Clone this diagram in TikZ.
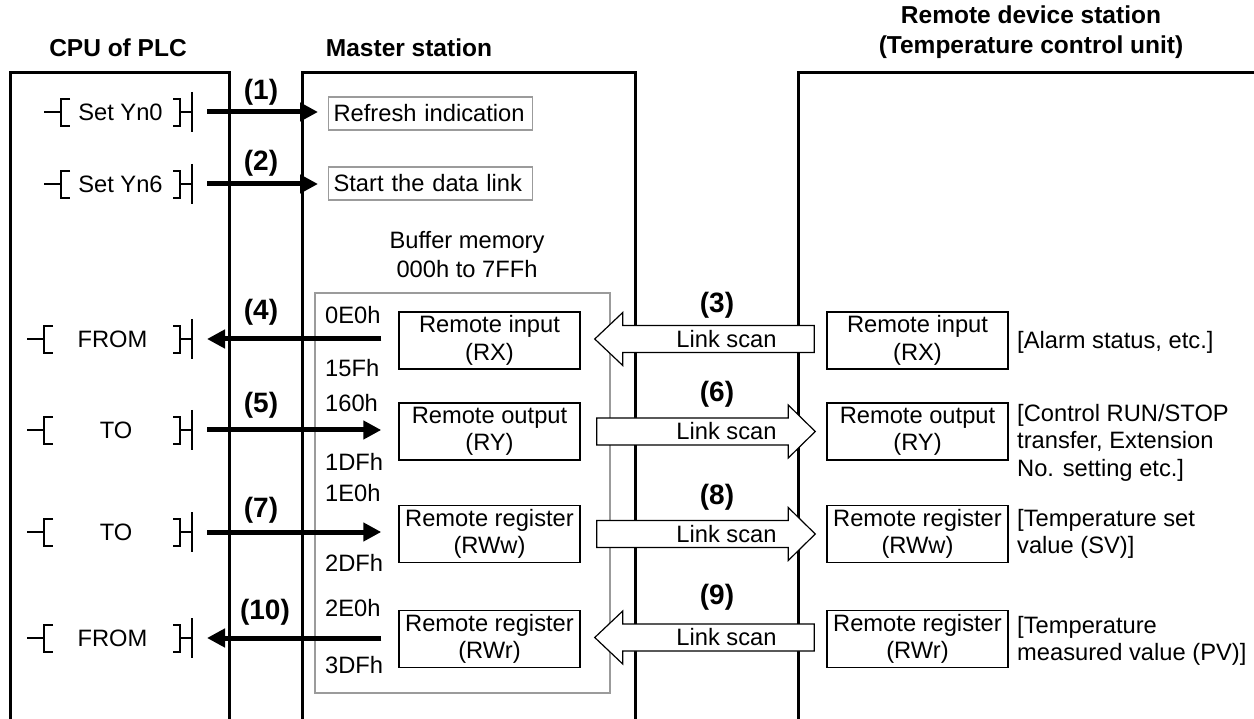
\documentclass[tikz,border=0pt]{standalone}
\usepackage{fontspec}
\setmainfont{Liberation Sans}
\usetikzlibrary{arrows.meta,calc}
\definecolor{boxgray}{RGB}{155,155,155}
% ladder rung: name, y, left bracket x, text, text x
\newcommand\rung[5]{%
  \node (#1) at (#5,#2) {#4};
  \draw[thinln] (#3-17,#2) -- (#3,#2);
  \draw[thinln] (#3+9,#2-13) -- (#3,#2-13) -- (#3,#2+14) -- (#3+9,#2+14);
  \draw[thinln] (173,#2-13) -- (180,#2-13) -- (180,#2+14) -- (173,#2+14);
  \draw[thinln] (180,#2) -- (192,#2);
  \draw[thinln] (192,#2-20) -- (192,#2+20);
  \coordinate (#1-bar) at (192,#2);
}
% hollow arrow pointing left: master box, remote box, name
\newcommand\linkL[3]{%
  \coordinate (#3-tip) at ($(#1.east)+(14,-1.5)$);
  \coordinate (#3-end) at ($(#1.east -| #2.west)+(-12,-1.5)$);
  \draw[hollow] (#3-tip) -- ++(28,-26.5) -- ++(0,13) -- ($(#3-end)+(0,-13.5)$) -- ++(0,27)
     -- ($(#3-tip)+(28,13.5)$) -- ++(0,13) -- cycle;
  \node (#3) at ($(#3-tip)!0.5!(#3-tip -| #2.west)+(16,0)$) {Link scan};
}
% hollow arrow pointing right
\newcommand\linkR[3]{%
  \coordinate (#3-start) at ($(#1.east)+(16,0)$);
  \coordinate (#3-tip) at ($(#1.east -| #2.west)+(-11,0)$);
  \draw[hollow] ($(#3-start)+(0,-13.5)$) -- ($(#3-tip)+(-27,-13.5)$) -- ++(0,-13) -- (#3-tip)
     -- ($(#3-tip)+(-27,26.5)$) -- ++(0,-13) -- ($(#3-start)+(0,13.5)$) -- cycle;
  \node (#3) at ($(#3-start)!0.5!(#3-start -| #2.west)+(15,0)$) {Link scan};
}
\begin{document}
\begin{tikzpicture}[x=1pt,y=-1pt,
  every node/.style={font=\fontsize{23.7}{27.5}\selectfont, inner sep=0pt},
  frame/.style={line width=3pt},
  thinln/.style={line width=1.2pt},
  hdr/.style={font=\fontsize{24.5}{30}\selectfont\bfseries, align=center},
  num/.style={font=\fontsize{28}{30}\selectfont\bfseries},
  reg/.style={draw, line width=1.5pt, minimum width=181pt, minimum height=57pt, align=center},
  graybox/.style={draw=boxgray, line width=1.2pt, anchor=west, text width=194pt, align=left,
                  inner xsep=5pt, minimum height=33pt},
  addr/.style={anchor=west},
  note/.style={anchor=north west, align=left},
  blkarrow/.style={line width=5pt, -{Triangle[length=18pt,width=18pt]}},
  hollow/.style={draw, line width=1.2pt, fill=white, line join=miter}
]
\useasboundingbox (0,0) rectangle (1254,719);

% headers
\node[hdr] (hcpu) at (118,48) {CPU of PLC};
\node[hdr] (hmaster) at (409,48) {Master station};
\node[hdr] (hremote) at (1031,32) {Remote device station\\(Temperature control unit)};

% station frames
\draw[frame] (10,719) -- (10,73) -- (229,73) -- (229,719);
\draw[frame] (302,719) -- (302,73) -- (635,73) -- (635,719);
\draw[frame] (798,719) -- (798,73) -- (1256,73);

% master station contents
\node[graybox] (refresh) at (328,113.5) {Refresh indication};
\node[graybox] (startdl) at (328,183.5) {Start the data link};
\node[align=center, font=\fontsize{23.7}{29}\selectfont] (bufmem) at (467,255) {Buffer memory\\000h to 7FFh};
\draw[boxgray, line width=1.2pt] (315,293) rectangle (610,693);

\node[reg] (mRX)  at (489.5,340.5) {Remote input\\(RX)};
\node[reg] (mRY)  at (489.5,431.5) {Remote output\\(RY)};
\node[reg] (mRWw) at (489.5,534) {Remote register\\(RWw)};
\node[reg] (mRWr) at (489.5,639) {Remote register\\(RWr)};

\node[addr] (a1) at (325,315) {0E0h};
\node[addr] (a2) at (325,368) {15Fh};
\node[addr] (a3) at (325,403) {160h};
\node[addr] (a4) at (325,462) {1DFh};
\node[addr] (a5) at (325,493) {1E0h};
\node[addr] (a6) at (325,563) {2DFh};
\node[addr] (a7) at (325,608) {2E0h};
\node[addr] (a8) at (325,665) {3DFh};

% remote device station contents
\node[reg] (rRX)  at (917.5,340.5) {Remote input\\(RX)};
\node[reg] (rRY)  at (917.5,431.5) {Remote output\\(RY)};
\node[reg] (rRWw) at (917.5,534) {Remote register\\(RWw)};
\node[reg] (rRWr) at (917.5,639) {Remote register\\(RWr)};

\node[anchor=west] (n1) at (1017,342) {[Alarm status, etc.]};
\node[note] (n2) at (1017,404) {[Control RUN/STOP\\transfer, Extension\\No. setting etc.]};
\node[note] (n3) at (1017,509) {[Temperature set\\value (SV)]};
\node[note] (n4) at (1017,616) {[Temperature\\measured value (PV)]};

% CPU ladder rungs
\rung{r1}{112}{61}{Set Yn0}{120.5}
\rung{r2}{184}{61}{Set Yn6}{120.5}
\rung{r4}{339}{44}{FROM}{112.5}
\rung{r5}{430}{44}{TO}{116}
\rung{r7}{532}{44}{TO}{116}
\rung{r10}{638}{44}{FROM}{112.5}

% black arrows
\draw[blkarrow] ($(r1-bar)+(15,0)$) -- ($(r1-bar -| refresh.west)+(-10,0)$);
\draw[blkarrow] ($(r2-bar)+(15,0)$) -- ($(r2-bar -| startdl.west)+(-10,0)$);
\draw[blkarrow] ($(r4-bar -| mRX.west)+(-17,0)$) -- ($(r4-bar)+(15,0)$);
\draw[blkarrow] ($(r5-bar)+(15,0)$) -- ($(r5-bar -| mRY.west)+(-17,0)$);
\draw[blkarrow] ($(r7-bar)+(15,0)$) -- ($(r7-bar -| mRWw.west)+(-17,0)$);
\draw[blkarrow] ($(r10-bar -| mRWr.west)+(-17,0)$) -- ($(r10-bar)+(15,0)$);

\node[num] (l1) at (261,92) {(1)};
\node[num] (l2) at (261,163) {(2)};
\node[num] (l4) at (261,312) {(4)};
\node[num] (l5) at (261,405) {(5)};
\node[num] (l7) at (261,510) {(7)};
\node[num] (l10) at (265,612) {(10)};

% link scans
\linkL{mRX}{rRX}{ls3}
\linkR{mRY}{rRY}{ls6}
\linkR{mRWw}{rRWw}{ls8}
\linkL{mRWr}{rRWr}{ls9}

\node[num] (l3) at (717,305) {(3)};
\node[num] (l6) at (717,394) {(6)};
\node[num] (l8) at (717,497) {(8)};
\node[num] (l9) at (717,597) {(9)};
\end{tikzpicture}
\end{document}
